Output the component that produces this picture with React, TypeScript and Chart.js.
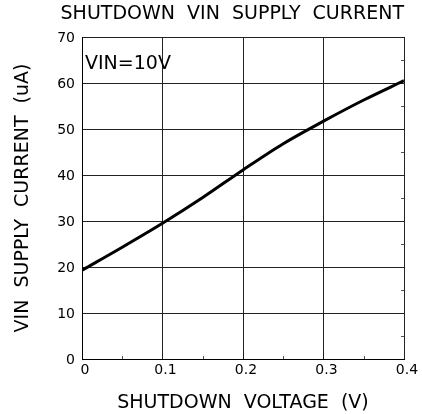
import React, { useEffect, useRef } from "react";
import { Chart, registerables } from "chart.js";

Chart.register(...registerables);

const voltage = [0, 0.05, 0.1, 0.15, 0.2, 0.25, 0.3, 0.35, 0.4];
const current = [19.3, 24.3, 29.5, 35.1, 41.1, 46.8, 51.7, 56.3, 60.5];
const xTicks = [0, 0.1, 0.2, 0.3, 0.4];
const yTicks = [0, 10, 20, 30, 40, 50, 60, 70];
const xMinor = [0.05, 0.15, 0.25, 0.35];
const yMinor = [5, 15, 25, 35, 45, 55, 65];

const FONT = "'DejaVu Sans', sans-serif";

const extras = {
  id: "extras",
  afterDraw(chart: any) {
    const { ctx, chartArea, scales } = chart;
    const xs = scales.x;
    const ys = scales.y;
    ctx.save();
    ctx.strokeStyle = "#555";
    ctx.lineWidth = 1;
    ctx.beginPath();
    xMinor.forEach((v) => {
      const px = Math.round(xs.getPixelForValue(v)) + 0.5;
      ctx.moveTo(px, chartArea.bottom);
      ctx.lineTo(px, chartArea.bottom - 3);
    });
    yMinor.forEach((v) => {
      const py = Math.round(ys.getPixelForValue(v)) + 0.5;
      ctx.moveTo(chartArea.right, py);
      ctx.lineTo(chartArea.right - 3, py);
    });
    ctx.stroke();
    ctx.fillStyle = "#000";
    ctx.font = `19px ${FONT}`;
    ctx.textBaseline = "middle";
    ctx.textAlign = "left";
    ctx.fillText("VIN=10V", chartArea.left + 3, chartArea.top + 27);
    ctx.restore();
  },
};

export default function App() {
  const ref = useRef<HTMLCanvasElement | null>(null);
  useEffect(() => {
    if (!ref.current) return;
    const chart = new Chart(ref.current, {
      type: "line",
      data: {
        datasets: [
          {
            data: voltage.map((v, i) => ({ x: v, y: current[i] })),
            borderColor: "#000",
            borderWidth: 3,
            pointRadius: 0,
            cubicInterpolationMode: "monotone",
            fill: false,
          },
        ],
      },
      options: {
        animation: false,
        responsive: true,
        maintainAspectRatio: false,
        layout: { padding: { left: 0, right: 18, top: 0, bottom: 0 } },
        plugins: {
          legend: { display: false },
          tooltip: { enabled: false },
          title: {
            display: true,
            text: "SHUTDOWN  VIN  SUPPLY  CURRENT",
            color: "#000",
            font: { family: FONT, size: 19, weight: "normal" },
            padding: { top: 2.6, bottom: 11.6 },
            align: "end",
          },
        },
        scales: {
          x: {
            type: "linear",
            min: 0,
            max: 0.4,
            afterBuildTicks: (s: any) => {
              s.ticks = xTicks.map((v) => ({ value: v }));
            },
            afterFit: (s: any) => {
              s.height = 55;
            },
            ticks: {
              color: "#000",
              font: { family: FONT, size: 14 },
              padding: 3,
              labelOffset: 3,
              maxRotation: 0,
              callback: (v: any) => String(v),
            },
            grid: { color: "#222", lineWidth: 1, drawTicks: false },
            border: { color: "#000", width: 1 },
            title: {
              display: true,
              text: "SHUTDOWN  VOLTAGE  (V)",
              color: "#000",
              font: { family: FONT, size: 19 },
              padding: { top: 0, bottom: 0 },
            },
          },
          y: {
            type: "linear",
            min: 0,
            max: 70,
            afterBuildTicks: (s: any) => {
              s.ticks = yTicks.map((v) => ({ value: v }));
            },
            afterFit: (s: any) => {
              s.width = 82;
            },
            ticks: {
              color: "#000",
              font: { family: FONT, size: 14 },
              padding: 7,
              labelOffset: 1.5,
            },
            grid: { color: "#222", lineWidth: 1, drawTicks: false },
            border: { color: "#000", width: 1 },
            title: {
              display: true,
              text: "VIN  SUPPLY  CURRENT  (uA)",
              color: "#000",
              font: { family: FONT, size: 19 },
              padding: { top: 11.6, bottom: 0 },
            },
          },
        },
      },
      plugins: [extras],
    });
    return () => chart.destroy();
  }, []);
  return (
    <div style={{ position: "fixed", left: 0, top: 0, width: 422, height: 414, background: "#fff" }}>
      <canvas ref={ref} />
    </div>
  );
}
